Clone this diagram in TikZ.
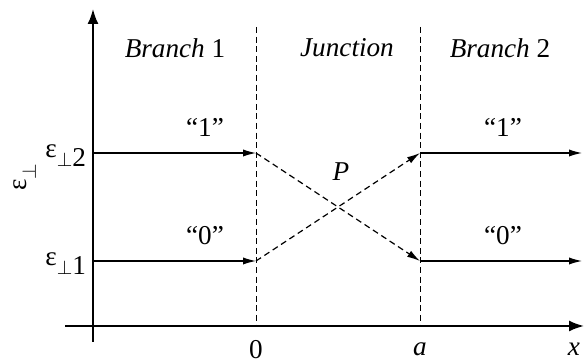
\documentclass[tikz,border=0pt]{standalone}
\usepackage{fontspec}
\setmainfont{Liberation Serif}
\usetikzlibrary{arrows.meta}
\newcommand{\mysubperp}{{\fontsize{10}{10}\selectfont$\perp$}}
\begin{document}
\begin{tikzpicture}[x=0.5pt,y=-0.5pt,
  axis/.style={line width=1pt,-{Latex[length=7.5pt,width=5.5pt]}},
  level/.style={line width=0.6pt,-{Latex[length=6.5pt,width=3.6pt]}},
  cross/.style={line width=0.6pt,dash pattern=on 3pt off 2pt,-{Latex[length=6.5pt,width=3.6pt]}},
  bound/.style={line width=0.5pt,dash pattern=on 3pt off 1.8pt},
  lbl/.style={inner sep=0pt,font=\fontsize{13.6}{16}\selectfont}]
\useasboundingbox (0,0) rectangle (584,362);
% axes
\coordinate (ybot) at (93,342);
\coordinate (ytop) at (93,9);
\coordinate (xl) at (65,326);
\coordinate (xr) at (584,326);
\draw[axis] (ybot) -- (ytop);
\draw[axis] (xl) -- (xr);
% boundaries
\coordinate (b0t) at (256,27);
\coordinate (b0b) at (256,326);
\coordinate (bat) at (420,27);
\coordinate (bab) at (420,326);
\draw[bound] (b0t) -- (b0b);
\draw[bound] (bat) -- (bab);
% levels
\coordinate (l2a) at (93,153);
\coordinate (l1a) at (93,261);
\coordinate (l2b) at (256,153);
\coordinate (l1b) at (256,261);
\coordinate (l2c) at (420,153);
\coordinate (l1c) at (420,261);
\coordinate (l2d) at (582,153);
\coordinate (l1d) at (582,261);
\draw[level] (l2a) -- (l2b);
\draw[level] (l1a) -- (l1b);
\draw[level] (l2c) -- (l2d);
\draw[level] (l1c) -- (l1d);
\draw[cross] (l2b) -- (l1c);
\draw[cross] (l1b) -- (l2c);
% labels
\node[lbl] (br1) at (175,48) {\itshape Branch \upshape 1};
\node[lbl] (jn) at (347,48) {\itshape Junction};
\node[lbl] (br2) at (500,48) {\itshape Branch \upshape 2};
\node[lbl] (q1a) at (205,127) {“1”};
\node[lbl] (q0a) at (205,236) {“0”};
\node[lbl] (q1b) at (503,127) {“1”};
\node[lbl] (q0b) at (503,236) {“0”};
\node[lbl] (P) at (341,172) {\itshape P};
\node[lbl,anchor=base west] (e2) at (45,158) {ε\raisebox{-4.5pt}{\mysubperp 2}};
\node[lbl,anchor=base west] (e1) at (45,266) {ε\raisebox{-4.5pt}{\mysubperp 1}};
\node[lbl,rotate=90] (ey) at (25,177) {ε\raisebox{-4.5pt}{\mysubperp}};
\node[lbl] (x0) at (256,350) {0};
\node[lbl] (xa) at (420,349) {\itshape a};
\node[lbl] (xx) at (574,349) {\itshape x};
\end{tikzpicture}
\end{document}
